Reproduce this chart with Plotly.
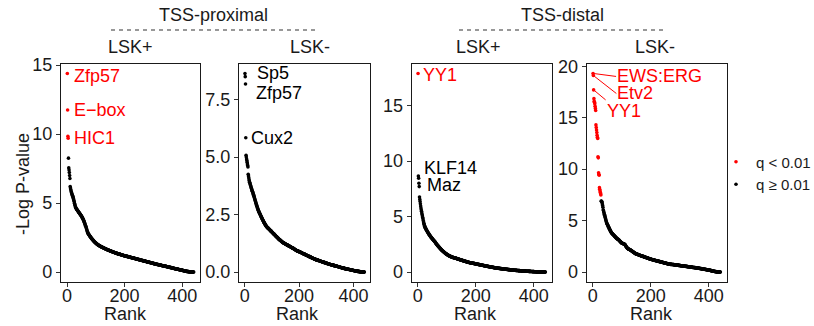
import plotly.graph_objects as go

# ---------------- data (-log10 P sorted by rank) ----------------
PANEL_TITLES = ["LSK+", "LSK-", "LSK+", "LSK-"]
GROUP_TITLES = ["TSS-proximal", "TSS-distal"]
LEGEND_NAMES = ["q < 0.01", "q \u2265 0.01"]
SIG_COUNT = [4, 0, 1, 28]          # number of top-ranked motifs with q < 0.01

prox_pos = [
    14.40, 11.75, 9.85, 9.70, 8.26, 7.55, 7.40, 7.22, 7.00, 6.78,
    6.20, 6.10, 5.98, 5.88, 5.80, 5.74, 5.66, 5.60, 5.55, 5.50,
    5.42, 5.34, 5.25, 5.17, 5.10, 4.98, 4.90, 4.82, 4.74, 4.68,
    4.64, 4.60, 4.57, 4.54, 4.51, 4.48, 4.45, 4.42, 4.39, 4.36,
    4.33, 4.30, 4.27, 4.24, 4.21, 4.18, 4.15, 4.12, 4.09, 4.06,
    4.03, 3.99, 3.95, 3.91, 3.87, 3.83, 3.78, 3.73, 3.68, 3.62,
    3.56, 3.50, 3.44, 3.38, 3.32, 3.26, 3.19, 3.12, 3.05, 2.98,
    2.92, 2.86, 2.81, 2.77, 2.74, 2.71, 2.68, 2.65, 2.62, 2.59,
    2.56, 2.53, 2.50, 2.47, 2.44, 2.42, 2.39, 2.37, 2.34, 2.32,
    2.29, 2.27, 2.25, 2.22, 2.20, 2.18, 2.16, 2.14, 2.12, 2.10,
    2.08, 2.06, 2.05, 2.03, 2.01, 2.00, 1.98, 1.97, 1.95, 1.94,
    1.93, 1.91, 1.90, 1.89, 1.88, 1.86, 1.85, 1.84, 1.83, 1.82,
    1.81, 1.80, 1.79, 1.78, 1.77, 1.76, 1.75, 1.74, 1.73, 1.72,
    1.71, 1.70, 1.69, 1.68, 1.67, 1.66, 1.65, 1.64, 1.63, 1.62,
    1.61, 1.60, 1.60, 1.59, 1.58, 1.57, 1.56, 1.55, 1.54, 1.54,
    1.53, 1.52, 1.51, 1.50, 1.49, 1.49, 1.48, 1.47, 1.46, 1.45,
    1.45, 1.44, 1.43, 1.42, 1.42, 1.41, 1.40, 1.39, 1.39, 1.38,
    1.37, 1.36, 1.36, 1.35, 1.34, 1.34, 1.33, 1.32, 1.32, 1.31,
    1.30, 1.30, 1.29, 1.28, 1.28, 1.27, 1.26, 1.26, 1.25, 1.24,
    1.24, 1.23, 1.22, 1.22, 1.21, 1.20, 1.20, 1.19, 1.18, 1.18,
    1.17, 1.17, 1.16, 1.16, 1.15, 1.15, 1.14, 1.14, 1.13, 1.13,
    1.12, 1.11, 1.11, 1.10, 1.10, 1.09, 1.09, 1.08, 1.08, 1.07,
    1.06, 1.06, 1.05, 1.05, 1.04, 1.04, 1.03, 1.03, 1.02, 1.01,
    1.01, 1.00, 1.00, 0.99, 0.99, 0.98, 0.98, 0.97, 0.96, 0.96,
    0.95, 0.95, 0.94, 0.94, 0.93, 0.93, 0.92, 0.91, 0.91, 0.90,
    0.90, 0.89, 0.89, 0.88, 0.88, 0.87, 0.86, 0.86, 0.85, 0.85,
    0.84, 0.84, 0.83, 0.83, 0.82, 0.81, 0.81, 0.80, 0.80, 0.79,
    0.79, 0.78, 0.78, 0.77, 0.76, 0.76, 0.75, 0.75, 0.74, 0.74,
    0.73, 0.73, 0.72, 0.71, 0.71, 0.70, 0.70, 0.69, 0.69, 0.68,
    0.68, 0.67, 0.66, 0.66, 0.65, 0.65, 0.64, 0.64, 0.63, 0.63,
    0.62, 0.61, 0.61, 0.60, 0.60, 0.59, 0.59, 0.58, 0.58, 0.57,
    0.57, 0.56, 0.56, 0.55, 0.55, 0.54, 0.54, 0.53, 0.53, 0.52,
    0.52, 0.51, 0.51, 0.50, 0.50, 0.49, 0.49, 0.48, 0.48, 0.47,
    0.47, 0.46, 0.46, 0.45, 0.45, 0.45, 0.44, 0.44, 0.43, 0.43,
    0.42, 0.42, 0.41, 0.41, 0.40, 0.40, 0.39, 0.39, 0.38, 0.38,
    0.37, 0.37, 0.36, 0.36, 0.35, 0.35, 0.34, 0.34, 0.33, 0.33,
    0.32, 0.32, 0.31, 0.31, 0.30, 0.30, 0.29, 0.29, 0.28, 0.28,
    0.27, 0.26, 0.26, 0.25, 0.25, 0.24, 0.24, 0.24, 0.23, 0.23,
    0.22, 0.22, 0.21, 0.21, 0.20, 0.20, 0.19, 0.19, 0.18, 0.18,
    0.17, 0.17, 0.16, 0.16, 0.15, 0.15, 0.14, 0.14, 0.13, 0.13,
    0.12, 0.12, 0.11, 0.11, 0.10, 0.10, 0.09, 0.09, 0.08, 0.08,
    0.07, 0.07, 0.06, 0.06, 0.05, 0.05, 0.05, 0.04, 0.04, 0.04,
    0.03, 0.03, 0.03, 0.02, 0.02, 0.02, 0.02, 0.01, 0.01, 0.01,
    0.01, 0.01, 0.01, 0.00, 0.00, 0.00, 0.00, 0.00, 0.00, 0.00,
]

prox_neg = [
    8.64, 8.50, 8.18, 5.84, 5.08, 5.00, 4.92, 4.85, 4.78, 4.70,
    4.63, 4.57, 4.25, 4.18, 4.10, 4.02, 3.96, 3.91, 3.87, 3.83,
    3.79, 3.75, 3.71, 3.67, 3.63, 3.59, 3.55, 3.52, 3.49, 3.46,
    3.42, 3.38, 3.34, 3.30, 3.26, 3.22, 3.18, 3.14, 3.10, 3.06,
    3.02, 2.98, 2.94, 2.90, 2.86, 2.83, 2.79, 2.76, 2.72, 2.69,
    2.66, 2.63, 2.60, 2.58, 2.55, 2.53, 2.50, 2.48, 2.45, 2.43,
    2.40, 2.38, 2.35, 2.33, 2.30, 2.28, 2.25, 2.23, 2.21, 2.18,
    2.16, 2.14, 2.12, 2.10, 2.08, 2.06, 2.04, 2.02, 2.00, 1.98,
    1.97, 1.96, 1.94, 1.93, 1.92, 1.91, 1.90, 1.89, 1.87, 1.86,
    1.85, 1.84, 1.83, 1.81, 1.80, 1.79, 1.78, 1.77, 1.75, 1.74,
    1.73, 1.72, 1.71, 1.69, 1.68, 1.67, 1.66, 1.65, 1.63, 1.62,
    1.61, 1.60, 1.59, 1.57, 1.56, 1.55, 1.54, 1.53, 1.51, 1.50,
    1.49, 1.48, 1.47, 1.45, 1.44, 1.43, 1.42, 1.41, 1.40, 1.39,
    1.38, 1.37, 1.36, 1.35, 1.34, 1.33, 1.32, 1.31, 1.30, 1.29,
    1.28, 1.27, 1.27, 1.26, 1.25, 1.25, 1.24, 1.23, 1.23, 1.22,
    1.21, 1.21, 1.20, 1.19, 1.19, 1.18, 1.17, 1.17, 1.16, 1.15,
    1.15, 1.14, 1.13, 1.13, 1.12, 1.11, 1.11, 1.10, 1.09, 1.09,
    1.08, 1.07, 1.07, 1.06, 1.05, 1.05, 1.04, 1.03, 1.03, 1.02,
    1.01, 1.00, 0.99, 0.99, 0.98, 0.97, 0.96, 0.96, 0.95, 0.94,
    0.94, 0.93, 0.92, 0.92, 0.91, 0.91, 0.90, 0.90, 0.89, 0.89,
    0.88, 0.88, 0.87, 0.87, 0.86, 0.86, 0.85, 0.84, 0.84, 0.83,
    0.83, 0.82, 0.82, 0.81, 0.80, 0.80, 0.79, 0.79, 0.78, 0.78,
    0.77, 0.76, 0.76, 0.75, 0.75, 0.74, 0.74, 0.73, 0.72, 0.72,
    0.71, 0.71, 0.70, 0.70, 0.69, 0.68, 0.68, 0.67, 0.67, 0.66,
    0.66, 0.65, 0.64, 0.64, 0.63, 0.63, 0.62, 0.62, 0.61, 0.60,
    0.60, 0.59, 0.59, 0.58, 0.58, 0.57, 0.57, 0.56, 0.56, 0.55,
    0.55, 0.54, 0.54, 0.53, 0.53, 0.53, 0.52, 0.52, 0.51, 0.51,
    0.51, 0.50, 0.50, 0.49, 0.49, 0.48, 0.48, 0.48, 0.47, 0.47,
    0.46, 0.46, 0.46, 0.45, 0.45, 0.44, 0.44, 0.44, 0.43, 0.43,
    0.42, 0.42, 0.42, 0.41, 0.41, 0.40, 0.40, 0.40, 0.39, 0.39,
    0.38, 0.38, 0.37, 0.37, 0.37, 0.36, 0.36, 0.35, 0.35, 0.35,
    0.34, 0.34, 0.34, 0.33, 0.33, 0.33, 0.32, 0.32, 0.32, 0.31,
    0.31, 0.31, 0.30, 0.30, 0.30, 0.29, 0.29, 0.29, 0.28, 0.28,
    0.28, 0.27, 0.27, 0.27, 0.26, 0.26, 0.26, 0.25, 0.25, 0.25,
    0.24, 0.24, 0.24, 0.23, 0.23, 0.23, 0.22, 0.22, 0.22, 0.21,
    0.21, 0.21, 0.20, 0.20, 0.20, 0.19, 0.19, 0.19, 0.18, 0.18,
    0.18, 0.17, 0.17, 0.17, 0.16, 0.16, 0.16, 0.15, 0.15, 0.15,
    0.14, 0.14, 0.14, 0.14, 0.13, 0.13, 0.13, 0.13, 0.12, 0.12,
    0.12, 0.12, 0.11, 0.11, 0.11, 0.11, 0.10, 0.10, 0.10, 0.10,
    0.09, 0.09, 0.09, 0.09, 0.08, 0.08, 0.08, 0.08, 0.07, 0.07,
    0.07, 0.07, 0.06, 0.06, 0.06, 0.06, 0.05, 0.05, 0.05, 0.05,
    0.04, 0.04, 0.04, 0.04, 0.03, 0.03, 0.03, 0.03, 0.03, 0.02,
    0.02, 0.02, 0.02, 0.02, 0.01, 0.01, 0.01, 0.01, 0.01, 0.01,
    0.01, 0.00, 0.00, 0.00, 0.00, 0.00, 0.00, 0.00, 0.00, 0.00,
]

dist_pos = [
    17.90, 8.65, 8.45, 8.00, 7.70, 6.77, 6.55, 6.35, 6.15, 5.95,
    5.78, 5.62, 5.47, 5.32, 5.18, 5.05, 4.92, 4.80, 4.65, 4.52,
    4.39, 4.30, 4.20, 4.12, 4.05, 3.99, 3.94, 3.89, 3.84, 3.79,
    3.74, 3.69, 3.65, 3.60, 3.56, 3.52, 3.48, 3.44, 3.40, 3.36,
    3.32, 3.28, 3.24, 3.21, 3.17, 3.14, 3.10, 3.07, 3.04, 3.01,
    2.98, 2.94, 2.91, 2.88, 2.85, 2.82, 2.79, 2.76, 2.73, 2.70,
    2.66, 2.62, 2.58, 2.55, 2.51, 2.48, 2.44, 2.41, 2.38, 2.35,
    2.32, 2.29, 2.26, 2.23, 2.20, 2.17, 2.14, 2.11, 2.08, 2.05,
    2.02, 2.00, 1.97, 1.95, 1.92, 1.90, 1.87, 1.85, 1.83, 1.80,
    1.78, 1.76, 1.74, 1.72, 1.70, 1.68, 1.66, 1.64, 1.62, 1.60,
    1.58, 1.56, 1.54, 1.53, 1.51, 1.50, 1.48, 1.47, 1.45, 1.44,
    1.43, 1.41, 1.40, 1.39, 1.38, 1.37, 1.36, 1.35, 1.34, 1.33,
    1.32, 1.31, 1.30, 1.30, 1.29, 1.28, 1.28, 1.27, 1.26, 1.26,
    1.25, 1.24, 1.23, 1.22, 1.21, 1.20, 1.19, 1.18, 1.17, 1.17,
    1.16, 1.15, 1.14, 1.13, 1.12, 1.11, 1.10, 1.10, 1.09, 1.08,
    1.07, 1.06, 1.05, 1.05, 1.04, 1.03, 1.02, 1.01, 1.00, 1.00,
    0.99, 0.98, 0.97, 0.96, 0.96, 0.95, 0.94, 0.93, 0.92, 0.92,
    0.91, 0.90, 0.89, 0.89, 0.88, 0.87, 0.86, 0.86, 0.85, 0.84,
    0.84, 0.83, 0.83, 0.82, 0.82, 0.81, 0.81, 0.80, 0.80, 0.79,
    0.79, 0.78, 0.78, 0.77, 0.77, 0.76, 0.76, 0.75, 0.74, 0.74,
    0.73, 0.73, 0.72, 0.72, 0.71, 0.70, 0.70, 0.69, 0.69, 0.68,
    0.68, 0.67, 0.67, 0.66, 0.65, 0.65, 0.64, 0.64, 0.63, 0.63,
    0.62, 0.62, 0.61, 0.61, 0.60, 0.59, 0.59, 0.58, 0.58, 0.57,
    0.57, 0.56, 0.56, 0.55, 0.55, 0.54, 0.54, 0.53, 0.52, 0.52,
    0.51, 0.51, 0.50, 0.50, 0.49, 0.49, 0.48, 0.48, 0.47, 0.47,
    0.46, 0.46, 0.45, 0.45, 0.44, 0.44, 0.43, 0.43, 0.42, 0.42,
    0.41, 0.41, 0.40, 0.40, 0.39, 0.39, 0.38, 0.38, 0.37, 0.37,
    0.37, 0.36, 0.36, 0.36, 0.35, 0.35, 0.34, 0.34, 0.34, 0.33,
    0.33, 0.33, 0.32, 0.32, 0.32, 0.31, 0.31, 0.31, 0.30, 0.30,
    0.30, 0.29, 0.29, 0.29, 0.28, 0.28, 0.28, 0.27, 0.27, 0.27,
    0.26, 0.26, 0.26, 0.25, 0.25, 0.25, 0.24, 0.24, 0.24, 0.23,
    0.23, 0.23, 0.22, 0.22, 0.22, 0.22, 0.21, 0.21, 0.21, 0.20,
    0.20, 0.20, 0.19, 0.19, 0.19, 0.19, 0.18, 0.18, 0.18, 0.17,
    0.17, 0.17, 0.17, 0.16, 0.16, 0.16, 0.16, 0.15, 0.15, 0.15,
    0.15, 0.14, 0.14, 0.14, 0.14, 0.14, 0.13, 0.13, 0.13, 0.13,
    0.13, 0.12, 0.12, 0.12, 0.12, 0.12, 0.11, 0.11, 0.11, 0.11,
    0.11, 0.10, 0.10, 0.10, 0.10, 0.10, 0.09, 0.09, 0.09, 0.09,
    0.09, 0.08, 0.08, 0.08, 0.08, 0.08, 0.07, 0.07, 0.07, 0.07,
    0.07, 0.07, 0.06, 0.06, 0.06, 0.06, 0.06, 0.06, 0.05, 0.05,
    0.05, 0.05, 0.05, 0.05, 0.04, 0.04, 0.04, 0.04, 0.04, 0.04,
    0.04, 0.03, 0.03, 0.03, 0.03, 0.03, 0.03, 0.03, 0.02, 0.02,
    0.02, 0.02, 0.02, 0.02, 0.02, 0.02, 0.01, 0.01, 0.01, 0.01,
    0.01, 0.01, 0.01, 0.01, 0.01, 0.01, 0.00, 0.00, 0.00, 0.00,
    0.00, 0.00, 0.00, 0.00, 0.00, 0.00, 0.00, 0.00, 0.00, 0.00,
]

dist_neg = [
    19.30, 19.10, 17.70, 16.85, 16.60, 16.50, 16.35, 16.10, 15.90, 15.70,
    14.30, 14.05, 13.80, 13.55, 13.30, 13.10, 12.98, 11.20, 11.10, 9.65,
    9.50, 9.40, 8.20, 8.05, 7.90, 7.75, 7.60, 7.50, 6.90, 6.88,
    6.86, 6.75, 6.62, 6.48, 6.30, 6.06, 5.95, 5.84, 5.73, 5.62,
    5.51, 5.40, 5.29, 5.18, 5.07, 4.97, 4.87, 4.77, 4.71, 4.65,
    4.59, 4.53, 4.47, 4.41, 4.35, 4.29, 4.23, 4.17, 4.11, 4.05,
    4.00, 3.95, 3.90, 3.85, 3.80, 3.77, 3.74, 3.71, 3.68, 3.65,
    3.62, 3.59, 3.56, 3.53, 3.50, 3.47, 3.44, 3.41, 3.38, 3.35,
    3.32, 3.29, 3.27, 3.24, 3.22, 3.20, 3.18, 3.16, 3.14, 3.11,
    3.08, 3.05, 3.02, 2.99, 2.96, 2.93, 2.90, 2.87, 2.84, 2.81,
    2.80, 2.79, 2.78, 2.77, 2.76, 2.75, 2.74, 2.72, 2.71, 2.69,
    2.68, 2.63, 2.58, 2.53, 2.48, 2.44, 2.40, 2.36, 2.33, 2.30,
    2.28, 2.26, 2.24, 2.22, 2.21, 2.20, 2.19, 2.18, 2.16, 2.14,
    2.12, 2.10, 2.08, 2.06, 2.04, 2.02, 2.00, 1.98, 1.96, 1.94,
    1.92, 1.90, 1.88, 1.86, 1.84, 1.82, 1.81, 1.79, 1.78, 1.76,
    1.75, 1.74, 1.73, 1.72, 1.71, 1.70, 1.69, 1.68, 1.66, 1.65,
    1.64, 1.63, 1.62, 1.61, 1.60, 1.59, 1.58, 1.57, 1.56, 1.55,
    1.54, 1.53, 1.52, 1.51, 1.50, 1.49, 1.48, 1.47, 1.46, 1.45,
    1.44, 1.43, 1.42, 1.41, 1.40, 1.39, 1.38, 1.37, 1.36, 1.35,
    1.34, 1.33, 1.32, 1.31, 1.30, 1.29, 1.28, 1.27, 1.26, 1.25,
    1.24, 1.23, 1.22, 1.22, 1.21, 1.20, 1.19, 1.19, 1.18, 1.17,
    1.16, 1.16, 1.15, 1.14, 1.13, 1.13, 1.12, 1.11, 1.10, 1.10,
    1.09, 1.08, 1.07, 1.07, 1.06, 1.05, 1.04, 1.04, 1.03, 1.02,
    1.01, 1.01, 1.00, 0.99, 0.98, 0.98, 0.97, 0.96, 0.95, 0.95,
    0.94, 0.93, 0.92, 0.92, 0.91, 0.90, 0.89, 0.89, 0.88, 0.87,
    0.86, 0.86, 0.85, 0.84, 0.83, 0.83, 0.82, 0.81, 0.80, 0.80,
    0.79, 0.78, 0.78, 0.77, 0.77, 0.76, 0.76, 0.75, 0.75, 0.75,
    0.75, 0.75, 0.74, 0.74, 0.74, 0.73, 0.73, 0.72, 0.72, 0.72,
    0.71, 0.71, 0.70, 0.70, 0.70, 0.69, 0.69, 0.69, 0.68, 0.68,
    0.67, 0.67, 0.67, 0.66, 0.66, 0.65, 0.65, 0.65, 0.64, 0.64,
    0.63, 0.63, 0.63, 0.62, 0.62, 0.61, 0.61, 0.61, 0.60, 0.60,
    0.59, 0.59, 0.59, 0.58, 0.58, 0.57, 0.57, 0.57, 0.56, 0.56,
    0.55, 0.55, 0.55, 0.54, 0.54, 0.53, 0.53, 0.53, 0.52, 0.52,
    0.51, 0.51, 0.51, 0.50, 0.50, 0.49, 0.49, 0.49, 0.48, 0.48,
    0.47, 0.47, 0.47, 0.46, 0.46, 0.45, 0.45, 0.45, 0.44, 0.44,
    0.43, 0.43, 0.43, 0.42, 0.42, 0.41, 0.41, 0.41, 0.40, 0.40,
    0.39, 0.39, 0.38, 0.38, 0.37, 0.37, 0.36, 0.36, 0.35, 0.35,
    0.34, 0.34, 0.33, 0.33, 0.32, 0.32, 0.31, 0.31, 0.30, 0.30,
    0.29, 0.29, 0.28, 0.28, 0.27, 0.27, 0.26, 0.26, 0.25, 0.25,
    0.24, 0.24, 0.23, 0.23, 0.22, 0.22, 0.21, 0.21, 0.20, 0.20,
    0.19, 0.18, 0.18, 0.17, 0.16, 0.16, 0.15, 0.14, 0.14, 0.13,
    0.12, 0.12, 0.11, 0.10, 0.10, 0.09, 0.08, 0.08, 0.07, 0.06,
    0.06, 0.05, 0.05, 0.04, 0.04, 0.03, 0.03, 0.02, 0.02, 0.02,
    0.01, 0.01, 0.01, 0.01, 0.00, 0.00, 0.00, 0.00, 0.00, 0.00,
]

# motif labels: (panel index, rank, label text)
MOTIF_LABELS = [
    (0, 1, "Zfp57"), (0, 2, "E\u2212box"), (0, 3, "HIC1"),
    (1, 1, "Sp5"), (1, 3, "Zfp57"), (1, 4, "Cux2"),
    (2, 1, "YY1"), (2, 2, "KLF14"), (2, 4, "Maz"),
    (3, 1, "EWS:ERG"), (3, 2, "Etv2"), (3, 3, "YY1"),
]

PANELS = [prox_pos, prox_neg, dist_pos, dist_neg]
Y_TICKS = [[0, 5, 10, 15], [0, 2.5, 5, 7.5], [0, 5, 10, 15], [0, 5, 10, 15, 20]]
Y_TICKTEXT = [["0", "5", "10", "15"], ["0.0", "2.5", "5.0", "7.5"],
              ["0", "5", "10", "15"], ["0", "5", "10", "15", "20"]]
X_TICKS = [0, 200, 400]

# ---------------- layout geometry (pixels) ----------------
W, H = 814, 326
RED, BLACK = "#ff0000", "#000000"
FONT = "Liberation Sans, Arial, sans-serif"
TXT = "#1a1a1a"
px_x = [(61, 200), (239, 370.3), (411.7, 551.7), (586.7, 726.7)]
py_top, py_bot = 63.5, 282


def fx(p):
    return p / W


def fy(p):
    return 1 - p / H


fig = go.Figure()
for i, vals in enumerate(PANELS):
    n = len(vals)
    ranks = list(range(1, n + 1))
    k = SIG_COUNT[i]
    ax_id = "" if i == 0 else str(i + 1)
    groups = [(ranks[:k], vals[:k], RED, LEGEND_NAMES[0]),
              (ranks[k:], vals[k:], BLACK, LEGEND_NAMES[1])]
    for xs, ys, col, name in groups:
        if not xs:
            continue
        fig.add_trace(go.Scatter(
            x=xs, y=ys, mode="markers", name=name, legendgroup=name,
            showlegend=(i == 0),
            marker=dict(color=col, size=3.6, line=dict(width=0)),
            xaxis="x" + ax_id, yaxis="y" + ax_id, cliponaxis=False,
        ))
    ymax = max(vals)
    ymin = min(vals)
    pad = 0.05 * (ymax - ymin)
    xpad = 0.05 * (n - 1)
    common = dict(showline=True, mirror=True, linecolor="#1a1a1a", linewidth=1.3,
                  ticks="outside", ticklen=4, tickwidth=1, tickcolor="#333",
                  showgrid=False, zeroline=False, automargin=False,
                  tickfont=dict(family=FONT, size=18, color=TXT))
    fig.layout["xaxis" + ax_id] = dict(
        domain=[fx(px_x[i][0]), fx(px_x[i][1])], anchor="y" + ax_id,
        range=[1 - xpad, n + xpad], tickvals=X_TICKS,
        ticklabelstandoff=-7, **common)
    fig.layout["yaxis" + ax_id] = dict(
        domain=[fy(py_bot), fy(py_top)], anchor="x" + ax_id,
        range=[ymin - pad, ymax + pad], tickvals=Y_TICKS[i],
        ticktext=Y_TICKTEXT[i], **common)

annotations = []
# motif labels (offsets in pixels)
label_style = {
    (0, 1): dict(xshift=5, yshift=-2.5), (0, 2): dict(xshift=4, yshift=-0.5),
    (0, 3): dict(xshift=4, yshift=-1.5),
    (1, 1): dict(xshift=10, yshift=0), (1, 3): dict(xshift=8, yshift=-9),
    (1, 4): dict(xshift=3, yshift=0),
    (2, 1): dict(xshift=3, yshift=-2), (2, 2): dict(xshift=4, yshift=8),
    (2, 4): dict(xshift=6, yshift=-2),
}
arrow_style = {
    (3, 1): dict(ax=23, ay=3, yanchor="middle"),
    (3, 2): dict(ax=23, ay=18, yanchor="middle"),
    (3, 3): dict(ax=12, ay=10, yanchor="top"),
}
for p, r, text in MOTIF_LABELS:
    ax_id = "" if p == 0 else str(p + 1)
    col = RED if r <= SIG_COUNT[p] else BLACK
    base = dict(x=r, y=PANELS[p][r - 1], xref="x" + ax_id, yref="y" + ax_id,
                text=text, font=dict(family=FONT, size=18, color=col),
                xanchor="left")
    if (p, r) in arrow_style:
        a = arrow_style[(p, r)]
        annotations.append(dict(base, showarrow=True, arrowhead=0, arrowwidth=1,
                                arrowcolor=col, ax=a["ax"], ay=a["ay"],
                                yanchor=a["yanchor"], standoff=1, borderpad=0))
    else:
        s = label_style[(p, r)]
        annotations.append(dict(base, showarrow=False, yanchor="middle",
                                xshift=s["xshift"], yshift=s["yshift"]))

# facet titles
for i, (cx) in enumerate([130, 310, 478, 655]):
    annotations.append(dict(x=fx(cx), y=fy(47), xref="paper", yref="paper",
                            text=PANEL_TITLES[i], showarrow=False,
                            font=dict(family=FONT, size=18, color=TXT),
                            xanchor="center", yanchor="middle"))
# group titles
for gx, title in zip([213.5, 562], GROUP_TITLES):
    annotations.append(dict(x=fx(gx), y=fy(15), xref="paper", yref="paper",
                            text=title, showarrow=False,
                            font=dict(family=FONT, size=18, color=TXT),
                            xanchor="center", yanchor="middle"))
# x-axis titles
for cx in [125.5, 297.5, 476, 651]:
    annotations.append(dict(x=fx(cx), y=fy(314), xref="paper", yref="paper",
                            text="Rank", showarrow=False,
                            font=dict(family=FONT, size=18, color=TXT),
                            xanchor="center", yanchor="middle"))
# y-axis title
annotations.append(dict(x=fx(23), y=fy(184), xref="paper", yref="paper",
                        text="-Log P-value", textangle=-90, showarrow=False,
                        font=dict(family=FONT, size=18, color=TXT),
                        xanchor="center", yanchor="middle"))

shapes = []
for x0, x1 in [(111, 317), (459, 665)]:
    shapes.append(dict(type="line", xref="paper", yref="paper",
                       x0=fx(x0), x1=fx(x1), y0=fy(30), y1=fy(30),
                       line=dict(color="#333", width=1.2, dash="4px,4px")))

fig.update_layout(
    template="none",
    width=W, height=H, margin=dict(l=0, r=0, t=0, b=0, pad=0, autoexpand=False),
    paper_bgcolor="white", plot_bgcolor="white",
    annotations=annotations, shapes=shapes,
    showlegend=True,
    legend=dict(x=fx(716), y=fy(173), xanchor="left", yanchor="middle",
                font=dict(family=FONT, size=15, color=TXT),
                tracegroupgap=0,
                bgcolor="rgba(0,0,0,0)", borderwidth=0),
)
fig.write_html("out.html")
